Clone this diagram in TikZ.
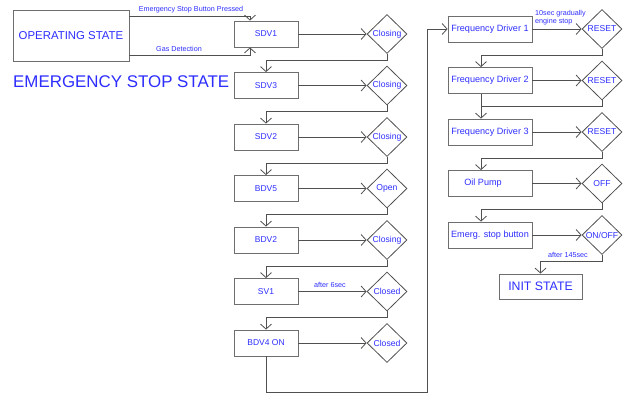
\documentclass[tikz,border=0pt]{standalone}
\usepackage{fontspec}
\setmainfont{Liberation Sans}
\usetikzlibrary{shapes.geometric,arrows.meta}
\definecolor{txtblue}{RGB}{45,45,255}
\definecolor{boxgray}{RGB}{110,110,110}
\definecolor{linegray}{RGB}{80,80,80}
\tikzset{
  stbox/.style={draw=boxgray,line width=0.8pt,minimum width=64pt,minimum height=26pt,inner sep=0pt,text=txtblue,font=\fontsize{8.5}{10}\selectfont},
  rbox/.style={stbox,minimum width=84pt,font=\fontsize{9.1}{10}\selectfont},
  dia/.style={draw=linegray,line width=0.8pt,diamond,minimum width=40pt,minimum height=39pt,inner sep=0pt,text=txtblue,font=\fontsize{8.6}{10}\selectfont},
  arr/.style={draw=linegray,line width=0.8pt,-{Straight Barb[length=5pt,width=11pt]}},
  ln/.style={draw=linegray,line width=0.8pt},
  small/.style={text=txtblue,font=\fontsize{7.2}{8.3}\selectfont,inner sep=0pt},
}
\newcommand{\dt}[1]{\makebox[0pt]{#1}}
\begin{document}
\begin{tikzpicture}[x=1pt,y=-1pt]
\useasboundingbox (0,0) rectangle (627,394);
% operating state
\node[draw=boxgray,line width=0.8pt,minimum width=116pt,minimum height=51pt,inner sep=0pt,text=txtblue,font=\fontsize{11.4}{13}\selectfont] (op) at (71,35.5) {OPERATING STATE};
\node[text=txtblue,font=\fontsize{16.9}{19}\selectfont,anchor=west,inner sep=0pt] (es) at (13,82) {EMERGENCY STOP STATE};
% left column
\node[stbox] (b1) at (266,34) {SDV1};
\node[stbox] (b2) at (266,85.5) {SDV3};
\node[stbox] (b3) at (266,137) {SDV2};
\node[stbox] (b4) at (266,188.5) {BDV5};
\node[stbox] (b5) at (266,240) {BDV2};
\node[stbox] (b6) at (266,291.5) {SV1};
\node[stbox] (b7) at (266,343) {BDV4 ON};
\node[dia] (d1) at (387,34) {\dt{Closing}};
\node[dia] (d2) at (387,85.5) {\dt{Closing}};
\node[dia] (d3) at (387,137) {\dt{Closing}};
\node[dia] (d4) at (387,188.5) {\dt{Open}};
\node[dia] (d5) at (387,240) {\dt{Closing}};
\node[dia] (d6) at (387,291.5) {\dt{Closed}};
\node[dia] (d7) at (387,343) {\dt{Closed}};
% right column
\node[rbox] (f1) at (490,29) {Frequency Driver 1};
\node[rbox] (f2) at (490,80.5) {Frequency Driver 2};
\node[rbox] (f3) at (490,132) {Frequency Driver 3};
\node[rbox] (f4) at (490,183.5) {Oil Pump\hspace*{14pt}};
\node[rbox] (f5) at (490,235) {Emerg. stop button};
\node[dia] (e1) at (602,29) {\dt{RESET}};
\node[dia] (e2) at (602,80.5) {\dt{RESET}};
\node[dia] (e3) at (602,132) {\dt{RESET}};
\node[dia] (e4) at (602,183.5) {\dt{OFF}};
\node[dia] (e5) at (602,235) {\dt{ON/OFF}};
\node[draw=boxgray,line width=0.8pt,minimum width=83pt,minimum height=25pt,inner sep=0pt,text=txtblue,font=\fontsize{12.3}{14}\selectfont] (init) at (540.5,286.5) {INIT STATE};
% connectors from operating state
\draw[arr] ([yshift=-7pt]op.north east) -| ([xshift=-16pt]b1.north);
\draw[arr] ([yshift=6pt]op.south east) -| ([xshift=-16pt]b1.south);
\node[small] (l1) at (191,10) {Emergency Stop Button Pressed};
\node[small] (l2) at (179,49) {Gas Detection};
% box to diamond
\foreach \i in {1,...,7} {\draw[arr] (b\i.east) -- (d\i.west);}
\foreach \i in {1,...,5} {\draw[arr] (f\i.east) -- (e\i.west);}
% diamond to next box
\foreach \i/\j in {1/2,2/3,3/4,4/5,5/6,6/7} {\draw[arr] (d\i.south) -- ++(0,6) -| (b\j.north);}
\foreach \i/\j in {1/2,2/3,3/4,4/5} {\draw[arr] (e\i.south) -- ++(0,6) -| ([xshift=-9pt]f\j.north);}
\draw[ln] ([xshift=-9pt]f2.south) -- ++(0,14);
\draw[arr] (e5.south) -- ++(0,6) -| (init.north);
\draw[arr] (b7.south) -- ++(0,36) -| ([xshift=-20pt]f1.west) -- (f1.west);
% labels
\node[small] (l3) at (330,285) {after 6sec};
\node[small] (l4) at (568,255) {after 145sec};
\node[small,align=left,anchor=west] (l5) at (535,17.5) {10sec gradually\\engine stop};
\end{tikzpicture}
\end{document}
